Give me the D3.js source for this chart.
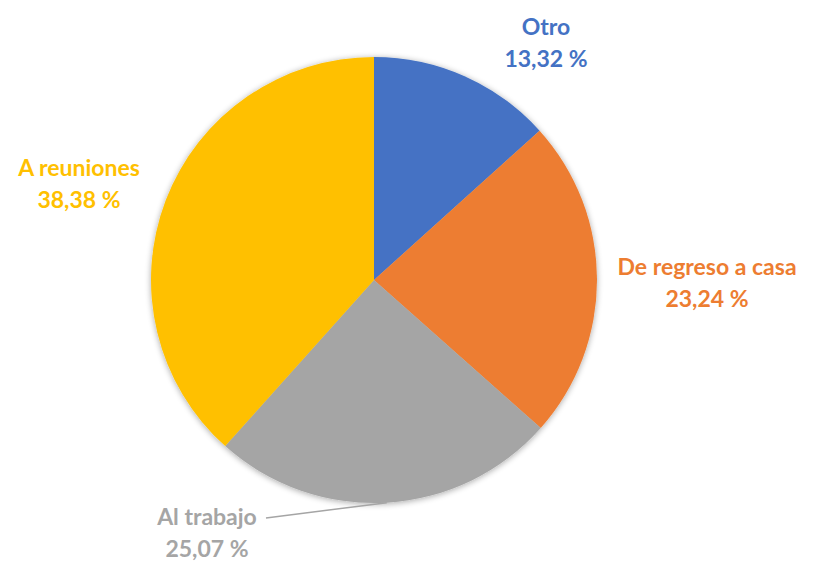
<!DOCTYPE html>
<head>
  <meta charset="utf-8" />
  <script src="https://d3js.org/d3.v7.min.js"></script>
  <style>
    body { margin: 0; background: #fff; }
    text { font-family: Lato, "Open Sans", sans-serif; font-weight: bold; }
  </style>
</head>
<body>
  <div id="chart"></div>
  <script>
    // donnees
    const categories = ["Otro", "De regreso a casa", "Al trabajo", "A reuniones"];
    const valeurs = [13.32, 23.24, 25.07, 38.38];
    const couleurs = ["#4472C4", "#ED7D31", "#A5A5A5", "#FFC000"];

    const width = 813, height = 561;
    const cx = 374, cy = 280, rayon = 223;

    // position des etiquettes (centre du texte, 1e ligne)
    const etiquettes = [
      { x: 546, y: 35 },
      { x: 707, y: 275 },
      { x: 207, y: 525 },
      { x: 79, y: 176 }
    ];

    const svg = d3.select("#chart").append("svg")
      .attr("width", width)
      .attr("height", height);

    const defs = svg.append("defs");
    const filtre = defs.append("filter").attr("id", "ombre")
      .attr("x", "-10%").attr("y", "-10%").attr("width", "120%").attr("height", "120%");
    filtre.append("feGaussianBlur").attr("in", "SourceAlpha").attr("stdDeviation", 3);
    filtre.append("feOffset").attr("dx", 0).attr("dy", 1).attr("result", "flou");
    filtre.append("feComponentTransfer").append("feFuncA").attr("type", "linear").attr("slope", 0.35);
    const merge = filtre.append("feMerge");
    merge.append("feMergeNode");
    merge.append("feMergeNode").attr("in", "SourceGraphic");

    const pie = d3.pie().sort(null).value(d => d);
    const arcs = pie(valeurs);
    const arc = d3.arc().innerRadius(0).outerRadius(rayon);

    const g = svg.append("g")
      .attr("transform", "translate(" + cx + "," + cy + ")")
      .attr("filter", "url(#ombre)");

    g.selectAll("path")
      .data(arcs)
      .join("path")
      .attr("d", arc)
      .style("fill", (d, i) => couleurs[i]);

    // ligne de rappel pour "Al trabajo"
    const a = (arcs[2].startAngle + arcs[2].endAngle) / 2;
    const ax = cx + Math.sin(a) * rayon, ay = cy - Math.cos(a) * rayon;
    svg.append("path")
      .attr("d", "M" + ax + "," + ay + " L266,518")
      .style("fill", "none")
      .style("stroke", couleurs[2])
      .style("stroke-width", 1.5);

    const labels = svg.append("g")
      .selectAll("text")
      .data(arcs)
      .join("text")
      .attr("x", (d, i) => etiquettes[i].x)
      .attr("y", (d, i) => etiquettes[i].y)
      .attr("text-anchor", "middle")
      .style("fill", (d, i) => couleurs[i])
      .style("font-size", "23px");

    labels.append("tspan")
      .attr("x", (d, i) => etiquettes[i].x)
      .text((d, i) => categories[i]);
    labels.append("tspan")
      .attr("x", (d, i) => etiquettes[i].x)
      .attr("dy", 32)
      .text(d => d3.format(".2f")(d.data).replace(".", ",") + " %");
  </script>
</body>
